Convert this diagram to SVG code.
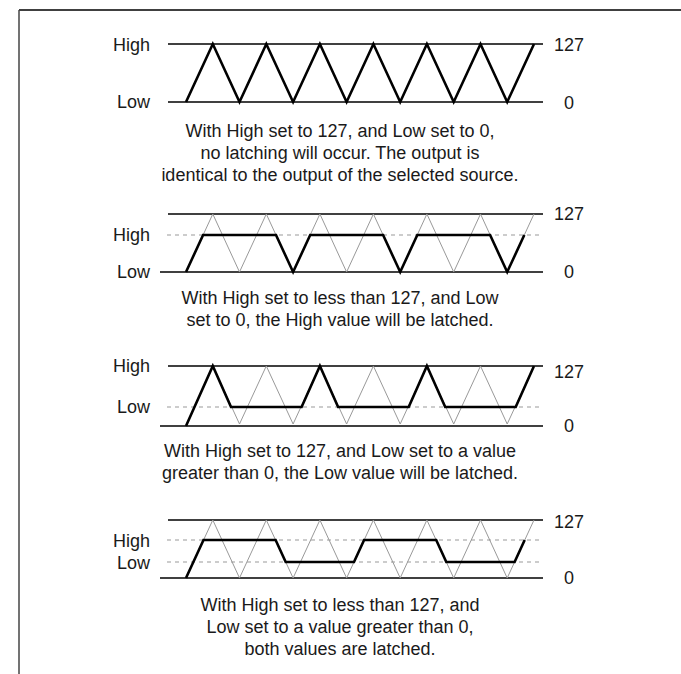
<svg xmlns="http://www.w3.org/2000/svg" width="681" height="674" viewBox="0 0 681 674">
<style>
text{font-family:"Liberation Sans",Arial,sans-serif;font-size:18px;fill:#1a1a1a}
.l{text-anchor:end}
.c{text-anchor:middle}
.axis{stroke:#000;stroke-width:1.3;fill:none}
.dash{stroke:#999;stroke-width:1;stroke-dasharray:4 4;fill:none}
.src{stroke:#999;stroke-width:1;fill:none}
.out{stroke:#000;stroke-width:2.6;fill:none;stroke-linejoin:miter}
</style>
<rect width="681" height="674" fill="#fff"/>
<g id="frame">
<line x1="19" y1="10" x2="681" y2="10" stroke="#000" stroke-width="1.5"/>
<line x1="19" y1="10" x2="19" y2="674" stroke="#444" stroke-width="1.5"/>
</g>
<g id="panel1">
<line class="axis" x1="168" y1="44" x2="543" y2="44"/>
<line class="axis" x1="168" y1="102" x2="543" y2="102"/>
<path class="out" d="M186,102 L212.8,44 L239.5,102 L266.3,44 L293.1,102 L319.9,44 L346.6,102 L373.4,44 L400.2,102 L426.9,44 L453.7,102 L480.5,44 L507.2,102 L534,44"/>
<text class="l" x="150" y="51">High</text>
<text class="l" x="150" y="108">Low</text>
<text class="c" x="569" y="51">127</text>
<text class="c" x="569" y="109">0</text>
<text class="c" x="340" y="137">With High set to 127, and Low set to 0,</text>
<text class="c" x="340" y="159">no latching will occur. The output is</text>
<text class="c" x="340" y="181">identical to the output of the selected source.</text>
</g>
<g id="panel2">
<line class="axis" x1="168" y1="214" x2="543" y2="214"/>
<line class="axis" x1="160" y1="272" x2="543" y2="272"/>
<line class="dash" x1="167" y1="235" x2="543" y2="235"/>
<path class="src" d="M186,272 L212.8,214 L239.5,272 L266.3,214 L293.1,272 L319.9,214 L346.6,272 L373.4,214 L400.2,272 L426.9,214 L453.7,272 L480.5,214 L507.2,272 L534,214"/>
<path class="out" d="M186,272 L203.1,235 L276,235 L293.1,272 L310.2,235 L383.1,235 L400.2,272 L417.3,235 L490.1,235 L507.2,272 L524.3,235"/>
<text class="l" x="150" y="241">High</text>
<text class="l" x="150" y="278">Low</text>
<text class="c" x="569" y="220">127</text>
<text class="c" x="569" y="278">0</text>
<text class="c" x="340" y="304">With High set to less than 127, and Low</text>
<text class="c" x="340" y="326">set to 0, the High value will be latched.</text>
</g>
<g id="panel3">
<line class="axis" x1="168" y1="366" x2="543" y2="366"/>
<line class="axis" x1="160" y1="426" x2="543" y2="426"/>
<line class="dash" x1="167" y1="407" x2="543" y2="407"/>
<path class="src" d="M186,426 L212.8,366 L239.5,424 L266.3,366 L293.1,424 L319.9,366 L346.6,424 L373.4,366 L400.2,424 L426.9,366 L453.7,424 L480.5,366 L507.2,424 L534,366"/>
<path class="out" d="M186,426 L212.8,366 L231,407 L301.6,407 L319.9,366 L338.1,407 L408.7,407 L426.9,366 L445.2,407 L515.7,407 L534,366"/>
<text class="l" x="150" y="372">High</text>
<text class="l" x="150" y="413">Low</text>
<text class="c" x="569" y="378">127</text>
<text class="c" x="569" y="432">0</text>
<text class="c" x="340" y="457">With High set to 127, and Low set to a value</text>
<text class="c" x="340" y="479">greater than 0, the Low value will be latched.</text>
</g>
<g id="panel4">
<line class="axis" x1="168" y1="520" x2="543" y2="520"/>
<line class="axis" x1="160" y1="578" x2="543" y2="578"/>
<line class="dash" x1="167" y1="540" x2="543" y2="540"/>
<line class="dash" x1="167" y1="562" x2="543" y2="562"/>
<path class="src" d="M186,578 L212.8,520 L239.5,578 L266.3,520 L293.1,578 L319.9,520 L346.6,578 L373.4,520 L400.2,578 L426.9,520 L453.7,578 L480.5,520 L507.2,578 L534,520"/>
<path class="out" d="M186,578 L203.5,540 L275.6,540 L285.7,562 L354,562 L364.1,540 L436.2,540 L446.3,562 L514.6,562 L524.7,540"/>
<text class="l" x="150" y="547">High</text>
<text class="l" x="150" y="569">Low</text>
<text class="c" x="569" y="528">127</text>
<text class="c" x="569" y="584">0</text>
<text class="c" x="340" y="611">With High set to less than 127, and</text>
<text class="c" x="340" y="633">Low set to a value greater than 0,</text>
<text class="c" x="340" y="655">both values are latched.</text>
</g>
</svg>
